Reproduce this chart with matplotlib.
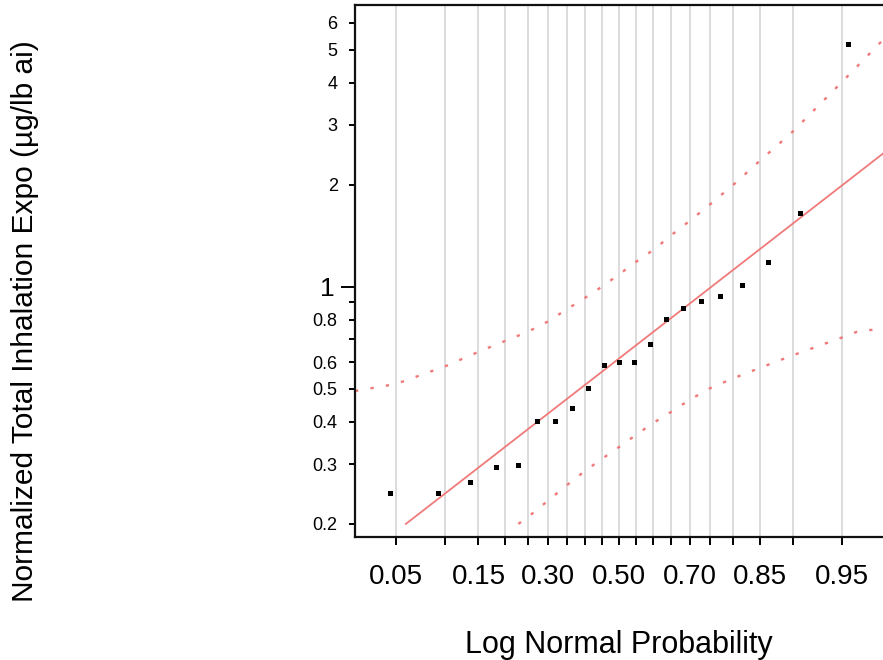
import matplotlib
matplotlib.use('Agg')
import matplotlib.pyplot as plt
from matplotlib.ticker import FixedLocator, FixedFormatter
from statistics import NormalDist

plt.rcParams['font.family'] = ['Liberation Sans', 'DejaVu Sans']

# ---- data ----
# sorted normalized exposures, plotted at Weibull positions i/(n+1)
exposure = [0.247, 0.247, 0.265, 0.294, 0.298, 0.402, 0.402, 0.438, 0.504,
            0.588, 0.600, 0.600, 0.677, 0.805, 0.864, 0.910, 0.941, 1.010,
            1.181, 1.647, 5.185]

# fitted lognormal line (two end points: probability, value)
fit_prob = [0.058, 0.982]
fit_value = [0.200, 2.748]

# upper confidence band
upper_prob = [0.0258, 0.05, 0.10, 0.15, 0.20, 0.25, 0.30, 0.35, 0.40, 0.45,
              0.50, 0.55, 0.60, 0.65, 0.70, 0.75, 0.80, 0.85, 0.90, 0.95, 0.9742]
upper_value = [0.493, 0.517, 0.583, 0.643, 0.692, 0.736, 0.790, 0.858, 0.926,
               1.001, 1.087, 1.185, 1.284, 1.419, 1.567, 1.754, 1.995, 2.347,
               2.867, 4.015, 5.34]

# lower confidence band
lower_prob = [0.2289, 0.25, 0.30, 0.35, 0.40, 0.45, 0.50, 0.55, 0.60, 0.65,
              0.70, 0.75, 0.80, 0.85, 0.90, 0.95, 0.9633, 0.9742]
lower_value = [0.200, 0.209, 0.234, 0.260, 0.286, 0.311, 0.337, 0.366, 0.397,
               0.428, 0.465, 0.503, 0.537, 0.576, 0.628, 0.709, 0.746, 0.746]

# x axis probability grid and labels
grid_prob = [0.05, 0.10, 0.15, 0.20, 0.25, 0.30, 0.35, 0.40, 0.45, 0.50,
             0.55, 0.60, 0.65, 0.70, 0.75, 0.80, 0.85, 0.90, 0.95]
grid_labels = ['0.05', '', '0.15', '', '', '0.30', '', '', '', '0.50',
               '', '', '', '0.70', '', '', '0.85', '', '0.95']

# y axis ticks
y_minor_ticks = [0.2, 0.3, 0.4, 0.5, 0.6, 0.7, 0.8, 0.9, 2, 3, 4, 5, 6]
y_minor_labels = ['0.2', '0.3', '0.4', '0.5', '0.6', '', '0.8', '', '2', '3', '4', '5', '6']
y_major_ticks = [1]
y_major_labels = ['1']

xlabel = 'Log Normal Probability'
ylabel = 'Normalized Total Inhalation Expo (\u00b5g/lb ai)'

# ---- helpers ----
nd = NormalDist()
def q(ps):
    return [nd.inv_cdf(p) for p in ps]

n = len(exposure)
pt_prob = [(i + 1) / (n + 1) for i in range(n)]

W, H = 883, 660
fig = plt.figure(figsize=(W / 100, H / 100), dpi=100)
ax = fig.add_axes([355 / W, 123 / H, 530 / W, 532 / H])

ax.set_yscale('log')
ax.set_xlim(-1.947, 1.962)
ax.set_ylim(0.1830, 6.77)

# gridlines
ax.set_xticks(q(grid_prob))
ax.set_xticklabels(grid_labels)
ax.grid(axis='x', color='#d2d2d2', lw=1.1)
ax.grid(axis='y', visible=False)
ax.set_axisbelow(True)

line_col = '#f07a7a'
ax.plot(q(upper_prob), upper_value, color=line_col, lw=1.7,
        linestyle=(0, (1.4, 5.2)))
ax.plot(q(lower_prob), lower_value, color=line_col, lw=1.7,
        linestyle=(0, (1.4, 5.2)))
ax.plot(q(fit_prob), fit_value, color=line_col, lw=1.3)
ax.plot(q(pt_prob), exposure, 's', color='black', ms=3.6, mew=0, zorder=5)

# y ticks
ax.yaxis.set_major_locator(FixedLocator(y_major_ticks))
ax.yaxis.set_major_formatter(FixedFormatter(y_major_labels))
ax.yaxis.set_minor_locator(FixedLocator(y_minor_ticks))
ax.yaxis.set_minor_formatter(FixedFormatter(y_minor_labels))
ax.tick_params(axis='y', which='major', length=10, width=1.4, pad=5,
               labelsize=19, direction='out')
ax.tick_params(axis='y', which='minor', length=4.5, width=1.4, pad=8,
               labelsize=13, direction='out')
ax.tick_params(axis='x', which='major', length=5.5, width=1.4, pad=14,
               labelsize=20, direction='out')
ax.tick_params(axis='x', which='minor', bottom=False)

for s in ['left', 'bottom', 'top']:
    ax.spines[s].set_linewidth(1.6)
    ax.spines[s].set_color('#111111')
ax.spines['right'].set_visible(False)

fig.text(619 / W, (H - 653.5) / H, xlabel, ha='center', va='baseline', fontsize=22)
fig.text(25 / W, 1 - 321.5 / H, ylabel, ha='center', va='center',
         rotation=90, fontsize=21.5)

fig.savefig('out.png', dpi=100)
